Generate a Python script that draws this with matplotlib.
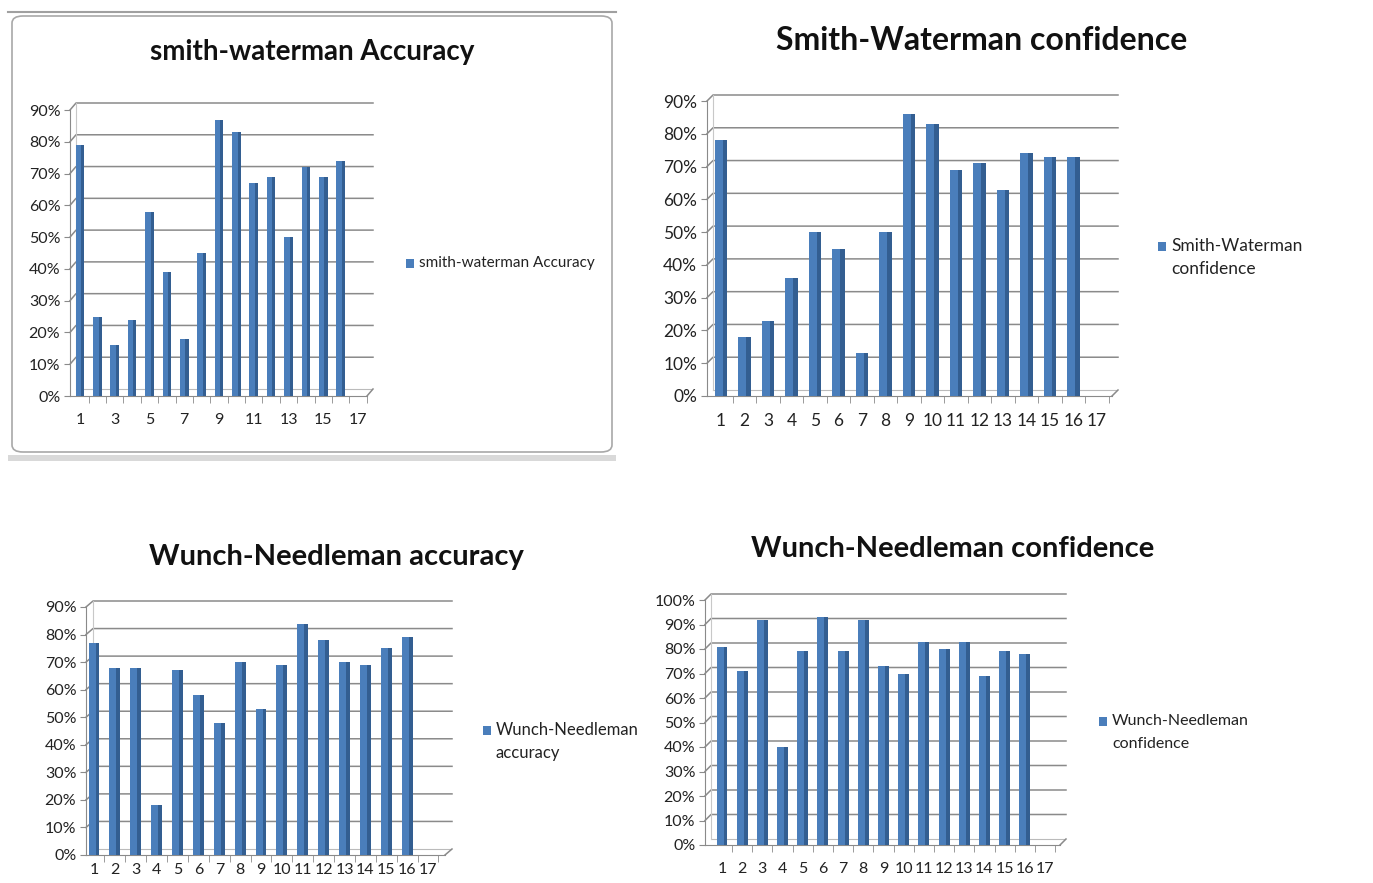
import numpy as np
import matplotlib.pyplot as plt
from matplotlib.patches import Rectangle, FancyBboxPatch
from matplotlib.lines import Line2D

# dati (in %), categorie 1..17 (la 17 e' vuota)
categorie = list(range(1, 18))
sw_accuracy = [79, 25, 16, 24, 58, 39, 18, 45, 87, 83, 67, 69, 50, 72, 69, 74]
sw_confidence = [78, 18, 23, 36, 50, 45, 13, 50, 86, 83, 69, 71, 63, 74, 73, 73]
wn_accuracy = [77, 68, 68, 18, 67, 58, 48, 70, 53, 69, 84, 78, 70, 69, 75, 79]
wn_confidence = [81, 71, 92, 40, 79, 93, 79, 92, 73, 70, 83, 80, 83, 69, 79, 78]

W, H = 1373, 883
plt.rcParams['font.family'] = ['Lato', 'DejaVu Sans']
fig = plt.figure(figsize=(W / 100, H / 100), dpi=100)

BLU = '#4A7EBB'
BLU_SCURO = '#335E91'
GRIGIO = '#8A8A8A'
TESTO = '#222222'


def fx(px):
    return px / W


def fy(py):
    return 1 - py / H


def pannello(valori, titolo, legenda, ymax_tick, passo_label, geo, tit_xy, leg_xy,
             larg=0.5, fs_tit=20, fs_tick=11, fs_leg=11, pad_x=12):
    x0, x1, c1, c17, y0, ytop, dxp, dyp = geo
    s = (c17 - c1) / 16
    xmin = 1 - (c1 - x0) / s
    xmax = 17 + (x1 - c17) / s
    k = (y0 - ytop) / ymax_tick
    ymax = ymax_tick + (dyp + 2) / k
    top_px = ytop - dyp - 2
    ax = fig.add_axes([fx(x0), fy(y0), fx(x1 - x0), (y0 - top_px) / H])
    ax.set_xlim(xmin, xmax)
    ax.set_ylim(0, ymax)
    ax.patch.set_alpha(0)
    dx = dxp / s
    dy = dyp / k

    # griglia "3D": tratto obliquo sulla parete sinistra + linea sulla parete di fondo
    for v in range(10, ymax_tick + 1, 10):
        ax.plot([xmin, xmin + dx, xmax], [v, v + dy, v + dy], color=GRIGIO, lw=1.1, clip_on=False)
    ax.plot([xmin + dx, xmax], [dy, dy], color='#BBBBBB', lw=0.8)
    ax.plot([xmin + dx, xmin + dx], [dy, ymax_tick + dy], color='#C8C8C8', lw=0.8, clip_on=False)
    ax.plot([xmax - dx, xmax], [0, dy], color=GRIGIO, lw=1.1, clip_on=False)

    x = np.array(categorie[:len(valori)])
    ax.bar(x, valori, width=larg, color=BLU, zorder=3)
    ax.bar(x + larg * 0.32, valori, width=larg * 0.36, color=BLU_SCURO, zorder=3)

    for sp in ['top', 'right']:
        ax.spines[sp].set_visible(False)
    ax.spines['left'].set_color(GRIGIO)
    ax.spines['bottom'].set_color(GRIGIO)
    ax.spines['left'].set_bounds(0, ymax_tick)
    ax.spines['bottom'].set_bounds(xmin, xmax - dx)

    ax.set_yticks(range(0, ymax_tick + 1, 10))
    ax.set_yticklabels([f'{v}%' for v in range(0, ymax_tick + 1, 10)], fontsize=fs_tick, color=TESTO)
    ax.tick_params(axis='y', length=4, color=GRIGIO, pad=3)

    lab = [str(c) if (c - 1) % passo_label == 0 else '' for c in categorie]
    ax.set_xticks(categorie)
    ax.set_xticklabels(lab, fontsize=fs_tick, color=TESTO)
    ax.set_xticks(np.arange(1.5, 17.6, 1), minor=True)
    ax.tick_params(axis='x', which='major', length=0, pad=pad_x)
    ax.tick_params(axis='x', which='minor', length=5, color=GRIGIO)

    fig.text(fx(tit_xy[0]), fy(tit_xy[1]), titolo, ha='center', va='center',
             fontsize=fs_tit, fontweight='bold', color='#111111')

    lx, ly = leg_xy
    fig.patches.append(Rectangle((fx(lx), fy(ly + 5)), fx(8), 9 / H, transform=fig.transFigure,
                                 facecolor=BLU, edgecolor='none'))
    righe = legenda.split('\n')
    for i, r in enumerate(righe):
        fig.text(fx(lx + 13), fy(ly + i * 23), r, ha='left', va='center', fontsize=fs_leg, color=TESTO)
    return ax


# cornice del primo grafico (finestra excel), dietro agli assi
fig.patches.append(FancyBboxPatch((fx(12), fy(452)), fx(600), (452 - 16) / H,
                                  boxstyle='round,pad=0.0,rounding_size=0.008',
                                  transform=fig.transFigure, facecolor='white',
                                  edgecolor='#A8A8A8', lw=1.2, zorder=-2))
fig.patches.append(Rectangle((fx(8), fy(461)), fx(608), 6 / H, transform=fig.transFigure,
                             facecolor='#D9D9D9', edgecolor='none', zorder=-2))
fig.add_artist(Line2D([fx(8), fx(616)], [fy(12), fy(12)], color='#A0A0A0', lw=1.5, zorder=-2))

pannello(sw_accuracy, 'smith-waterman Accuracy', 'smith-waterman Accuracy', 90, 2,
         (70, 373, 80, 358, 396, 110, 6, 7), (312, 52), (406, 263), larg=0.5,
         fs_tit=20, fs_tick=11.5, fs_leg=11)
pannello(sw_confidence, 'Smith-Waterman confidence', 'Smith-Waterman\nconfidence', 90, 1,
         (707, 1118, 721, 1097, 396, 101, 6, 6), (982, 40), (1158, 246), larg=0.54,
         fs_tit=23, fs_tick=12.5, fs_leg=12.5)
pannello(wn_accuracy, 'Wunch-Needleman accuracy', 'Wunch-Needleman\naccuracy', 90, 1,
         (86, 452, 94, 428, 855, 607, 7, 6), (336, 557), (483, 730), larg=0.52,
         fs_tit=21, fs_tick=11.5, fs_leg=12, pad_x=6)
pannello(wn_confidence, 'Wunch-Needleman confidence', 'Wunch-Needleman\nconfidence', 100, 1,
         (705, 1066, 722, 1045, 845, 600, 6, 6), (953, 549), (1099, 721), larg=0.54,
         fs_tit=21, fs_tick=11.5, fs_leg=11.5)

fig.savefig('out.png', dpi=100)
